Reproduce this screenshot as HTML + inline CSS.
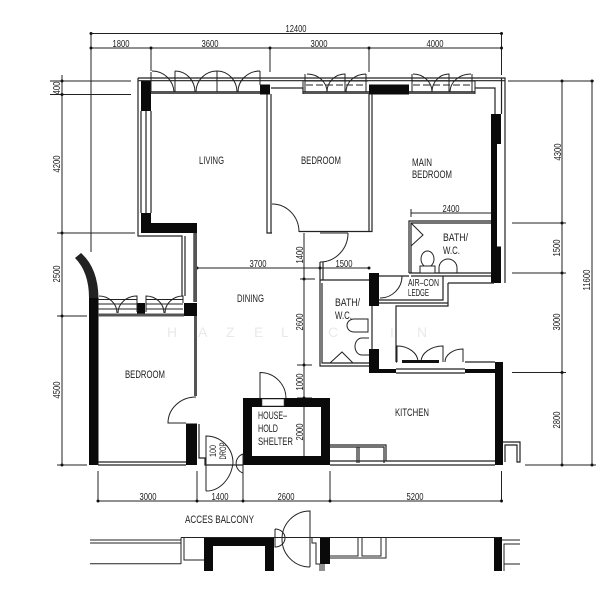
<!DOCTYPE html>
<html>
<head>
<meta charset="utf-8">
<style>
html,body{margin:0;padding:0;background:#fff}
svg{display:block}
text{font-family:"Liberation Sans",sans-serif;fill:#222;font-size:11px}
.d{font-size:10px}
.w{font-size:14px;fill:#e9e9e9}
.l{fill:none;stroke:#222;stroke-width:1}
.t{fill:none;stroke:#222;stroke-width:1.2}
.g{fill:none;stroke:#555;stroke-width:3}
.b{fill:#0a0a0a}
.tick{fill:#111}
</style>
</head>
<body>
<svg width="616" height="600" viewBox="0 0 616 600" xmlns="http://www.w3.org/2000/svg">
<rect width="616" height="600" fill="#fff"/>

<!-- watermark -->
<text class="w" x="167" y="337">H</text><text class="w" x="198" y="337">A</text><text class="w" x="226" y="337">Z</text><text class="w" x="254" y="337">E</text><text class="w" x="281" y="337">L</text><text class="w" x="328" y="337">C</text><text class="w" x="390" y="337">I</text><text class="w" x="417" y="337">N</text>

<!-- dimension lines -->
<path class="l" d="M91 33.5H502M91 48H502M91 33V252M151 48V71M270 48V72M369 48V72M501.5 33V75
M62 75V465M50 81H131M50 94.5H131M57 233H135M57 316H87M57 465H87
M562 81V465M592 81V465M508 81H594M512 223H566M512 273H566M512 372.5H566M525 465H596
M98 471V501M197 471V501M243 471V501M330 471V501M501.5 471V501M98 501H502
M304 233V465M197 268H369M300 279H315M297 365H312M297 398H312M411 213H491M411 209V217"/>
<g class="tick">
<circle cx="91" cy="33.5" r="1.5"/><circle cx="91" cy="48" r="1.5"/><circle cx="151" cy="48" r="1.5"/><circle cx="270" cy="48" r="1.5"/><circle cx="369" cy="48" r="1.5"/><circle cx="501.5" cy="33.5" r="1.5"/><circle cx="501.5" cy="48" r="1.5"/>
<circle cx="62" cy="81" r="1.5"/><circle cx="62" cy="94.5" r="1.5"/><circle cx="62" cy="233" r="1.5"/><circle cx="62" cy="316" r="1.5"/><circle cx="62" cy="465" r="1.5"/>
<circle cx="562" cy="81" r="1.5"/><circle cx="592" cy="81" r="1.5"/><circle cx="562" cy="223" r="1.5"/><circle cx="562" cy="273" r="1.5"/><circle cx="562" cy="372.5" r="1.5"/><circle cx="562" cy="465" r="1.5"/><circle cx="592" cy="465" r="1.5"/>
<circle cx="98" cy="501" r="1.5"/><circle cx="197" cy="501" r="1.5"/><circle cx="243" cy="501" r="1.5"/><circle cx="330" cy="501" r="1.5"/><circle cx="501.5" cy="501" r="1.5"/>
<circle cx="304" cy="279" r="1.5"/><circle cx="304" cy="365" r="1.5"/><circle cx="304" cy="398" r="1.5"/><circle cx="197" cy="268" r="1.5"/><circle cx="320" cy="268" r="1.5"/><circle cx="369" cy="268" r="1.5"/>
</g>

<!-- black walls -->
<g class="b">
<rect x="141" y="81" width="10" height="30"/>
<rect x="141" y="213" width="10" height="20"/>
<rect x="141" y="223" width="56" height="10"/>
<rect x="260" y="84.5" width="10" height="10"/>
<rect x="369" y="84.5" width="40" height="10"/>
<rect x="491" y="114" width="10" height="30"/>
<rect x="491" y="144" width="6" height="103"/>
<rect x="491" y="246.5" width="10" height="36.5"/>
<rect x="369" y="273" width="10" height="33"/>
<rect x="369" y="349" width="10" height="23"/>
<rect x="369" y="369" width="27" height="4"/>
<rect x="465" y="369" width="30" height="4"/>
<rect x="495" y="362" width="8" height="103"/>
<rect x="89" y="297" width="9.5" height="168"/>
<path d="M75 258Q89 272 89 298H98.5Q98 268 81 253Z" fill="#222"/>
<rect x="137" y="303" width="8" height="13"/>
<rect x="184" y="303" width="13" height="13"/>
<rect x="186" y="423.5" width="11" height="41.5"/>
<path fill-rule="evenodd" d="M243 398H330V465H243ZM252 407V456H321V407Z"/>
<rect x="204" y="537" width="70" height="9"/>
<rect x="204" y="537" width="9" height="34"/>
<rect x="265" y="537" width="9" height="34"/>
<rect x="320" y="537" width="10" height="27"/>
<rect x="494" y="537" width="8" height="34"/>
</g>
<rect x="262" y="399" width="22" height="7" fill="#fff" stroke="#444" stroke-width=".6"/>

<!-- thin walls -->
<path class="t" d="M138 78H505V283M138 78V236H182V296M141 111V213M146 111V213M151 111V213M138 80.7H505
M185 236V296M194 233V302
M267 94V233H271V94M271 88H303V94M475 88H495V114M501.5 78V114
M272 233H267M299 231.5H372V94M369 94V231.5
M409 273V221H491M411 273V223H491M409 273H491M411 276H491M379 276H409
M448 283H494M448 283V306H396V362M443 276V300H379M379 303H448
M320 262V280H369M323 262V280M320 280V366H369M322 283V363H369M372 306V350
M396 362H397M465 362H495M396 373H465M396 369H465
M98 462H186M98 465H186
M199 424V458H205V465H243
M330 445H386V461H495M330 447H384V463M330 461H495M330 465H495
M357 447V463M359 447V463
M503 442H520V462H517V445H505V462"/>
<path class="g" d="M195.5 233V302M195.5 316V396" stroke-width="2.5"/>

<!-- top window bands -->
<path class="g" d="M151 92.5H260M303 92.5H369M409 92.5H475M98 315H184" stroke-width="2.4"/>
<path class="l" d="M151 72V92M175 71V92M196 92M217 71V92M260 71V85
M303 81V94M305 74V92M366 74V92M412 74V92M472 74V92M475 81V94"/>
<path class="l" stroke-dasharray="7 3" d="M306 85H366M413 85H471"/>
<path class="l" d="M305 81H368M412 81H475"/>

<!-- living doors -->
<path class="l" d="M152 71A22 22 0 0 1 174 92M175 71A20 21 0 0 1 195 92M196 92A21 21 0 0 1 217 71M217 71A20 21 0 0 1 237 92M238 92A22 21 0 0 1 260 71"/>
<!-- bedroom doors -->
<path class="l" d="M307 74A20 18 0 0 1 327 92M327 92A18 18 0 0 1 345 74V92M346 92A20 18 0 0 1 366 74"/>
<path class="l" d="M413 74A19 18 0 0 1 432 92M432 92A17 18 0 0 1 449 74V92M450 92A21 18 0 0 1 471 74"/>
<!-- interior doors -->
<path class="l" d="M272 204A27 28 0 0 1 299 232M348 233A28 29 0 0 1 320 262M348 233H320"/>
<path class="l" d="M402 276A22 22 0 0 1 380 298"/>
<path class="l" d="M397 362V346A21 16 0 0 1 418 362M443 362V346A22 16 0 0 0 421 362M463 362V349A18 13 0 0 0 445 362"/>
<path d="M402 360H439V363H402Z" fill="#111"/>
<!-- lower balcony doors -->
<path class="l" d="M99 296A18 17 0 0 1 117 313M137 312V296A19 17 0 0 0 118 313M146 312V296A18 17 0 0 1 164 313M183 303V296A18 17 0 0 0 165 313M98 299.5H137M146 299.5H183M98 304H137M146 304H183M98 309H137M146 309H183"/>
<!-- bedroom door -->
<path class="l" d="M196 397A28 26 0 0 0 168 423H186"/>
<!-- shelter door -->
<path class="l" d="M260 398V372.5A26 26 0 0 1 286 398"/>
<!-- DROP door -->
<path class="l" d="M206 491V436A27 27 0 0 1 233 463A27 33 0 0 1 206 491"/>
<path class="l" d="M243 454A10 10 0 0 0 243 473V454M243 473V480"/>

<!-- WC upper -->
<path class="l" d="M411 223L423 235L411 246"/>
<ellipse class="l" cx="427.5" cy="259" rx="6.5" ry="8"/>
<path d="M420 266H435V273H420Z" fill="#fff" stroke="#222"/>
<path class="l" d="M439 273V268A9 9 0 0 1 457 268V273"/>
<!-- WC lower -->
<path class="l" d="M368 319H354A7 6.5 0 0 0 354 332H368ZM369 338H362A7 8.5 0 0 0 362 355H369"/>
<path class="l" d="M330 363L342 352L353 363"/>

<!-- bottom strip -->
<path class="l" d="M90 540H181M90 543H181M90 563.7H181M181 537.5V564M181 537.5H500M184 537.5V560H204M275 529A10 9 0 0 1 275 547V529"/>
<path class="l" d="M310 567V511A27 27 0 0 0 310 567M312 537V543H316V564H320V571M322 564V571M324 564V571"/>
<path class="l" d="M330 556H358V537.5M362 537.5V556H381V537.5M330 558H386V537.5"/>
<path class="l" d="M502 540H520M504 571V544H520M504 564H520"/>

<!-- room labels -->
<text x="199" y="164" textLength="25" lengthAdjust="spacingAndGlyphs">LIVING</text>
<text x="301" y="164" textLength="40" lengthAdjust="spacingAndGlyphs">BEDROOM</text>
<text x="412" y="166" textLength="20" lengthAdjust="spacingAndGlyphs">MAIN</text>
<text x="412" y="178" textLength="40" lengthAdjust="spacingAndGlyphs">BEDROOM</text>
<text x="443" y="241" textLength="25" lengthAdjust="spacingAndGlyphs">BATH/</text>
<text x="443" y="254" textLength="17" lengthAdjust="spacingAndGlyphs">W.C.</text>
<text x="335" y="306" textLength="25" lengthAdjust="spacingAndGlyphs">BATH/</text>
<text x="335" y="319" textLength="17" lengthAdjust="spacingAndGlyphs">W.C.</text>
<text x="237" y="302" textLength="27" lengthAdjust="spacingAndGlyphs">DINING</text>
<text x="125" y="378" textLength="40" lengthAdjust="spacingAndGlyphs">BEDROOM</text>
<text x="395" y="416" textLength="34" lengthAdjust="spacingAndGlyphs">KITCHEN</text>
<text x="258" y="419" textLength="29" lengthAdjust="spacingAndGlyphs">HOUSE–</text>
<text x="258" y="432" textLength="20" lengthAdjust="spacingAndGlyphs">HOLD</text>
<text x="258" y="445" textLength="35" lengthAdjust="spacingAndGlyphs">SHELTER</text>
<text class="d" x="408" y="286" textLength="31" lengthAdjust="spacingAndGlyphs">AIR–CON</text>
<text class="d" x="408" y="296" textLength="21" lengthAdjust="spacingAndGlyphs">LEDGE</text>
<text x="185" y="523" textLength="69" lengthAdjust="spacingAndGlyphs">ACCES  BALCONY</text>

<!-- horizontal dimensions -->
<g text-anchor="middle">
<text class="d" x="296" y="32" textLength="21" lengthAdjust="spacingAndGlyphs">12400</text>
<text class="d" x="121" y="47" textLength="17" lengthAdjust="spacingAndGlyphs">1800</text>
<text class="d" x="210" y="47" textLength="17" lengthAdjust="spacingAndGlyphs">3600</text>
<text class="d" x="319" y="47" textLength="17" lengthAdjust="spacingAndGlyphs">3000</text>
<text class="d" x="435" y="47" textLength="17" lengthAdjust="spacingAndGlyphs">4000</text>
<text class="d" x="451" y="212" textLength="17" lengthAdjust="spacingAndGlyphs">2400</text>
<text class="d" x="344" y="267" textLength="17" lengthAdjust="spacingAndGlyphs">1500</text>
<text class="d" x="258" y="267" textLength="17" lengthAdjust="spacingAndGlyphs">3700</text>
<text class="d" x="148" y="500" textLength="17" lengthAdjust="spacingAndGlyphs">3000</text>
<text class="d" x="220" y="500" textLength="17" lengthAdjust="spacingAndGlyphs">1400</text>
<text class="d" x="286" y="500" textLength="17" lengthAdjust="spacingAndGlyphs">2600</text>
<text class="d" x="415" y="500" textLength="17" lengthAdjust="spacingAndGlyphs">5200</text>
</g>
<!-- vertical dimensions -->
<g text-anchor="middle">
<text class="d" transform="translate(60,88) rotate(-90)" textLength="13" lengthAdjust="spacingAndGlyphs">400</text>
<text class="d" transform="translate(60,164) rotate(-90)" textLength="17" lengthAdjust="spacingAndGlyphs">4200</text>
<text class="d" transform="translate(60,274) rotate(-90)" textLength="17" lengthAdjust="spacingAndGlyphs">2500</text>
<text class="d" transform="translate(60,390) rotate(-90)" textLength="17" lengthAdjust="spacingAndGlyphs">4500</text>
<text class="d" transform="translate(561,152) rotate(-90)" textLength="17" lengthAdjust="spacingAndGlyphs">4300</text>
<text class="d" transform="translate(560,248) rotate(-90)" textLength="17" lengthAdjust="spacingAndGlyphs">1500</text>
<text class="d" transform="translate(560,322) rotate(-90)" textLength="17" lengthAdjust="spacingAndGlyphs">3000</text>
<text class="d" transform="translate(560,420) rotate(-90)" textLength="17" lengthAdjust="spacingAndGlyphs">2800</text>
<text class="d" transform="translate(590,280) rotate(-90)" textLength="21" lengthAdjust="spacingAndGlyphs">11600</text>
<text class="d" transform="translate(303,255) rotate(-90)" textLength="17" lengthAdjust="spacingAndGlyphs">1400</text>
<text class="d" transform="translate(303,322) rotate(-90)" textLength="17" lengthAdjust="spacingAndGlyphs">2600</text>
<text class="d" transform="translate(303,382) rotate(-90)" textLength="17" lengthAdjust="spacingAndGlyphs">1000</text>
<text class="d" transform="translate(303,432) rotate(-90)" textLength="17" lengthAdjust="spacingAndGlyphs">2000</text>
<text class="d" transform="translate(216,451) rotate(-90)" style="font-size:9px" textLength="12" lengthAdjust="spacingAndGlyphs">100</text>
<text class="d" transform="translate(226,451) rotate(-90)" style="font-size:9px" textLength="17" lengthAdjust="spacingAndGlyphs">DROP</text>
</g>
</svg>
</body>
</html>
